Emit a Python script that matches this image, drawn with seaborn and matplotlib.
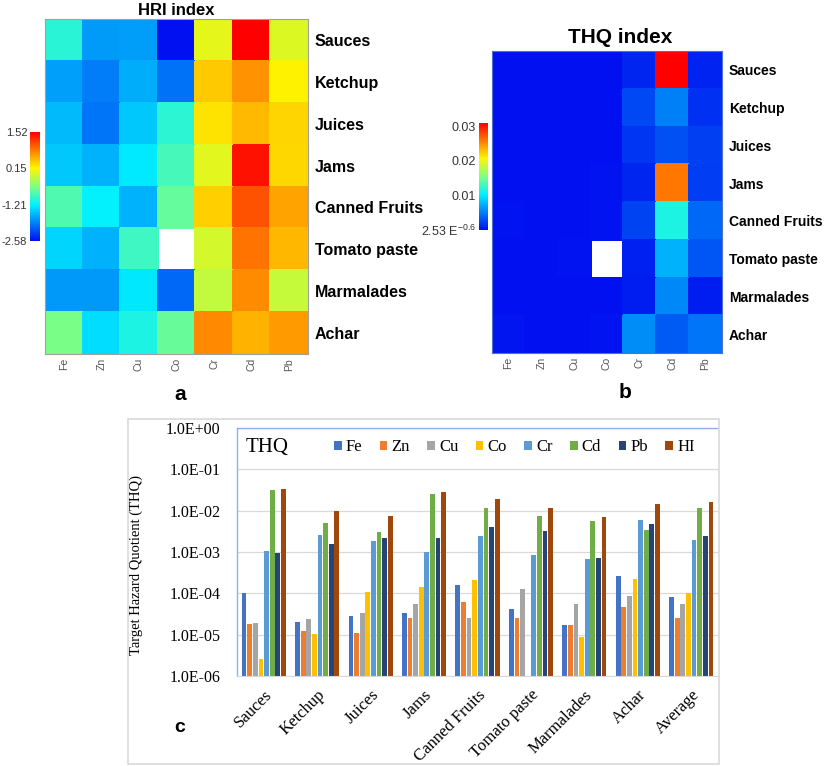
import numpy as np
import pandas as pd
import matplotlib
matplotlib.use("Agg")
import matplotlib.pyplot as plt
import seaborn as sns
from matplotlib.colors import LinearSegmentedColormap
from matplotlib.patches import Rectangle
from matplotlib.ticker import NullLocator

# ---------------- data ----------------
foods = ["Sauces", "Ketchup", "Juices", "Jams", "Canned Fruits",
         "Tomato paste", "Marmalades", "Achar"]
groups = foods + ["Average"]
metals = ["Fe", "Zn", "Cu", "Co", "Cr", "Cd", "Pb"]
series = metals + ["HI"]

# THQ values per element across groups (Sauces ... Achar, Average)
thq_fe = [1.0e-4, 2.0e-5, 2.8e-5, 3.4e-5, 1.6e-4, 4.1e-5, 1.75e-5, 2.7e-4, 8.2e-5]
thq_zn = [1.8e-5, 1.2e-5, 1.1e-5, 2.5e-5, 6.2e-5, 2.6e-5, 1.75e-5, 4.6e-5, 2.6e-5]
thq_cu = [1.9e-5, 2.4e-5, 3.4e-5, 5.5e-5, 2.6e-5, 1.3e-4, 5.4e-5, 8.6e-5, 5.4e-5]
thq_co = [2.6e-6, 1.05e-5, 1.05e-4, 1.4e-4, 2.1e-4, np.nan, 9.0e-6, 2.2e-4, 1.02e-4]
thq_cr = [1.05e-3, 2.6e-3, 1.8e-3, 1.0e-3, 2.4e-3, 8.5e-4, 6.8e-4, 5.8e-3, 2.0e-3]
thq_cd = [3.1e-2, 5.1e-3, 3.0e-3, 2.6e-2, 1.14e-2, 7.4e-3, 5.5e-3, 3.4e-3, 1.14e-2]
thq_pb = [9.3e-4, 1.55e-3, 2.2e-3, 2.15e-3, 4.1e-3, 3.2e-3, 7.0e-4, 4.7e-3, 2.5e-3]
thq_hi = [3.4e-2, 9.6e-3, 7.4e-3, 2.9e-2, 1.9e-2, 1.18e-2, 7.1e-3, 1.45e-2, 1.65e-2]

# HRI index values (rows = foods, columns = Fe, Zn, Cu, Co, Cr, Cd, Pb)
hri_sauces = [-1.00, -1.74, -1.72, -2.58, 0.02, 1.52, -0.03]
hri_ketchup = [-1.70, -1.92, -1.62, -1.98, 0.41, 0.71, 0.19]
hri_juices = [-1.55, -1.96, -1.47, -0.98, 0.26, 0.48, 0.34]
hri_jams = [-1.47, -1.60, -1.26, -0.85, 0.00, 1.41, 0.33]
hri_canned = [-0.80, -1.21, -1.59, -0.68, 0.38, 1.06, 0.61]
hri_tomato = [-1.39, -1.59, -0.89, np.nan, -0.07, 0.87, 0.51]
hri_marmalades = [-1.76, -1.76, -1.27, -2.05, -0.17, 0.74, -0.15]
hri_achar = [-0.57, -1.34, -1.07, -0.66, 0.76, 0.53, 0.67]

hri_ticks = [-2.58, -1.21, 0.15, 1.52]
hri_tick_labels = ["-2.58", "-1.21", "0.15", "1.52"]
thq_ticks = [2.53e-6, 0.01, 0.02, 0.03]
thq_tick_labels = [r"2.53 E$^{\mathregular{-0.6}}$", "0.01", "0.02", "0.03"]
bar_colors = ["#4472C4", "#ED7D31", "#A5A5A5", "#FFC000",
              "#5B9BD5", "#70AD47", "#264478", "#9E480E"]
ytick_vals = [1e-6, 1e-5, 1e-4, 1e-3, 1e-2, 1e-1, 1e0]
ytick_labels = ["1.0E-06", "1.0E-05", "1.0E-04", "1.0E-03",
                "1.0E-02", "1.0E-01", "1.0E+00"]

# ---------------- frames ----------------
hri_df = pd.DataFrame([hri_sauces, hri_ketchup, hri_juices, hri_jams, hri_canned,
                       hri_tomato, hri_marmalades, hri_achar],
                      index=foods, columns=metals)
thq_series = [thq_fe, thq_zn, thq_cu, thq_co, thq_cr, thq_cd, thq_pb, thq_hi]
thq_df = pd.DataFrame({m: s[:8] for m, s in zip(metals, thq_series[:7])}, index=foods)
long_df = pd.DataFrame([(g, s, v[i]) for s, v in zip(series, thq_series)
                        for i, g in enumerate(groups)],
                       columns=["group", "metal", "THQ"])

plt.rcParams["font.family"] = ["Liberation Sans", "DejaVu Sans"]
W, H = 827, 766
fig = plt.figure(figsize=(W / 100, H / 100), dpi=100)
fig.patch.set_facecolor("white")


def box(l, t, r, b):
    return [l / W, 1 - b / H, (r - l) / W, (b - t) / H]


cmap = LinearSegmentedColormap.from_list(
    "bcyr", [(0.0, "#0010F0"), (0.33, "#00F0FF"), (0.5, "#80FF80"),
             (0.67, "#FFF500"), (1.0, "#FF0000")])


def style_heatmap(ax, cax, title, tsize, tpad, tx, ylabsize, spine_color,
                  tick_labels, cbsize):
    mesh = ax.collections[0]
    mesh.set_edgecolor("face")
    mesh.set_linewidth(0.3)
    ax.yaxis.tick_right()
    ax.set_yticklabels(foods, rotation=0, fontsize=ylabsize, fontweight="bold")
    ax.set_xticklabels(metals, rotation=90, fontsize=7.5, color="#555555")
    ax.tick_params(length=0)
    ax.tick_params(axis="y", pad=5)
    ax.tick_params(axis="x", pad=3)
    ax.set_xlabel("")
    ax.set_ylabel("")
    for sp in ax.spines.values():
        sp.set_visible(True)
        sp.set_color(spine_color)
        sp.set_linewidth(0.8)
    ax.set_title(title, fontsize=tsize, fontweight="bold", pad=tpad, x=tx)
    cax.yaxis.set_ticks_position("left")
    cax.set_yticklabels(tick_labels)
    cax.tick_params(length=0, labelsize=cbsize, labelcolor="#333333", pad=2)
    for sp in cax.spines.values():
        sp.set_visible(False)


# ---------------- HRI heatmap ----------------
ax1 = fig.add_axes(box(45, 19, 308, 354))
cax1 = fig.add_axes(box(30, 132, 40, 241))
sns.heatmap(hri_df, ax=ax1, cmap=cmap, vmin=-2.58, vmax=1.52, cbar_ax=cax1,
            cbar_kws={"ticks": hri_ticks}, linewidths=0)
style_heatmap(ax1, cax1, "HRI index", 12, 3, 0.5, 11.5, "#A0A0A0",
              hri_tick_labels, 8)

# ---------------- THQ heatmap ----------------
ax2 = fig.add_axes(box(492, 51, 722, 353))
cax2 = fig.add_axes(box(479, 123, 488, 230))
sns.heatmap(thq_df, ax=ax2, cmap=cmap, vmin=2.53e-6, vmax=0.031, cbar_ax=cax2,
            cbar_kws={"ticks": thq_ticks}, linewidths=0)
style_heatmap(ax2, cax2, "THQ index", 15, 6, (620 - 492) / 230, 10, "#5070D0",
              thq_tick_labels, 9)

fig.text(180 / W, 1 - 395 / H, "a", fontsize=15, fontweight="bold", ha="center", va="center")
fig.text(625 / W, 1 - 393 / H, "b", fontsize=15, fontweight="bold", ha="center", va="center")

# ---------------- bar chart ----------------
fig.add_artist(Rectangle((128 / W, 1 - 764 / H), (719 - 128) / W, (764 - 419) / H,
                         transform=fig.transFigure, fill=False,
                         edgecolor="#D9D9D9", linewidth=1.2))
ax3 = fig.add_axes(box(237, 428, 718, 676))
sns.barplot(data=long_df, x="group", y="THQ", hue="metal", order=groups,
            hue_order=series, palette=bar_colors, width=0.84, gap=0.15,
            saturation=1, ax=ax3, errorbar=None)
ax3.set_yscale("log")
ax3.set_ylim(1e-6, 1)
ax3.set_xlim(-0.5, len(groups) - 0.5)
ax3.set_yticks(ytick_vals)
ax3.set_yticklabels(ytick_labels, family="Liberation Serif", fontsize=11.5)
ax3.yaxis.set_minor_locator(NullLocator())
ax3.tick_params(length=0)
ax3.tick_params(axis="y", pad=12)
ax3.set_xticks(range(len(groups)))
ax3.set_xticklabels(groups, rotation=45, ha="right", rotation_mode="anchor",
                    family="Liberation Serif", fontsize=12)
ax3.tick_params(axis="x", pad=8)
ax3.grid(axis="y", color="#D9D9D9", linewidth=0.9)
ax3.set_axisbelow(True)
ax3.set_xlabel("")
ax3.set_ylabel("Target Hazard Quotient (THQ)", family="Liberation Serif", fontsize=10.5)
ax3.yaxis.set_label_coords((143 - 237) / 481, 0.448)
for side in ["left", "top"]:
    ax3.spines[side].set_color("#8DB3E2")
    ax3.spines[side].set_linewidth(1)
ax3.spines["right"].set_visible(False)
ax3.spines["bottom"].set_color("#D9D9D9")
handles, labels = ax3.get_legend_handles_labels()
ax3.legend(handles, labels, ncol=8, loc="center left",
           bbox_to_anchor=((334 - 237) / 481, 0.923), frameon=False,
           handlelength=0.45, handleheight=0.45, handletextpad=0.25,
           columnspacing=1.05, borderaxespad=0, borderpad=0,
           prop={"family": "Liberation Serif", "size": 12})
ax3.text(0.017, 0.923, "THQ", transform=ax3.transAxes, ha="left", va="center",
         family="Liberation Serif", fontsize=15)
fig.text(180 / W, 1 - 728 / H, "c", fontsize=14, fontweight="bold", ha="center", va="center")

fig.savefig("out.png", dpi=100, facecolor="white")
